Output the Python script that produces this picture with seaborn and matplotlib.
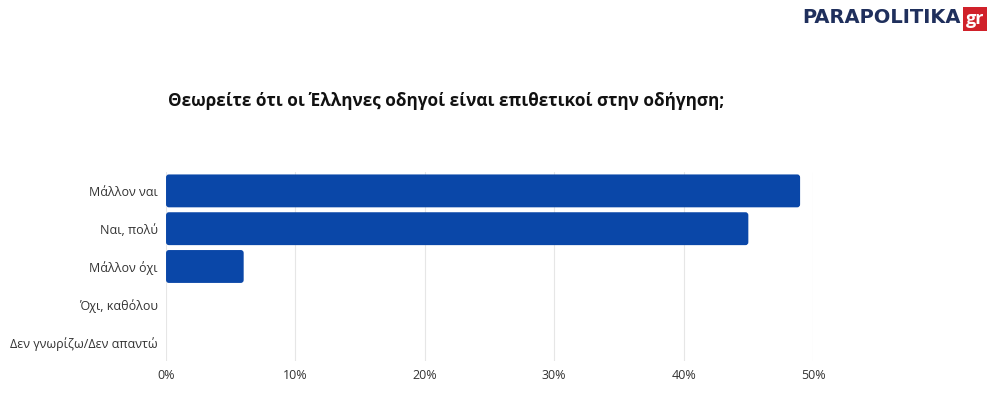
import matplotlib
matplotlib.use("Agg")
import matplotlib.pyplot as plt
import seaborn as sns
import pandas as pd
from matplotlib.ticker import FuncFormatter
from matplotlib.patches import FancyBboxPatch

categories = ["Μάλλον ναι", "Ναι, πολύ", "Μάλλον όχι", "Όχι, καθόλου", "Δεν γνωρίζω/Δεν απαντώ"]
values = [49, 45, 6, 0, 0]
x_ticks = [0, 10, 20, 30, 40, 50]
title = "Θεωρείτε ότι οι Έλληνες οδηγοί είναι επιθετικοί στην οδήγηση;"

df = pd.DataFrame({"category": categories, "value": values})

sns.set_theme(style="white")
plt.rcParams["font.family"] = ["Open Sans", "DejaVu Sans"]

fig = plt.figure(figsize=(9.96, 3.95), dpi=100)
ax = fig.add_axes([0.1667, 0.0861, 0.6496, 0.4785])

sns.barplot(data=df, x="value", y="category", order=categories, color="#0A47A8",
            saturation=1, width=0.87, ax=ax, edgecolor="none")

ax.set_xlim(0, 50)
ax.set_ylim(4.5, -0.5)

# round bar corners slightly
for p in list(ax.patches):
    x0, y0 = p.get_x(), p.get_y()
    w, h = p.get_width(), p.get_height()
    if w <= 0:
        p.remove()
        continue
    fb = FancyBboxPatch((x0, y0), w, h, boxstyle="round,pad=0,rounding_size=0.22",
                        mutation_aspect=0.35, fc=p.get_facecolor(), ec="none", zorder=p.get_zorder())
    p.remove()
    ax.add_patch(fb)

ax.set_xticks(x_ticks)
ax.xaxis.set_major_formatter(FuncFormatter(lambda v, p: f"{int(v)}%"))
ax.grid(axis="x", color="#E6E6E6", linewidth=0.8)
ax.set_axisbelow(True)
for s in ax.spines.values():
    s.set_visible(False)
ax.set_xlabel("")
ax.set_ylabel("")
ax.tick_params(axis="x", length=0, pad=6, labelsize=9, colors="#333333")
ax.tick_params(axis="y", length=0, pad=6, labelsize=9, colors="#333333")

fig.text(0.1687, 0.745, title, fontsize=12.3, fontweight="bold", color="#111111",
         ha="left", va="center")

# logo
fig.text(0.9645, 0.955, "PARAPOLITIKA", fontsize=14, fontweight="heavy",
         color="#1F2F5C", ha="right", va="center", family=["DejaVu Sans"])
fig.text(0.979, 0.952, "gr", fontsize=13, fontweight="bold", color="white", ha="center", va="center",
         bbox=dict(boxstyle="square,pad=0.15", fc="#D0212A", ec="none"))

fig.savefig("out.png", dpi=100)
